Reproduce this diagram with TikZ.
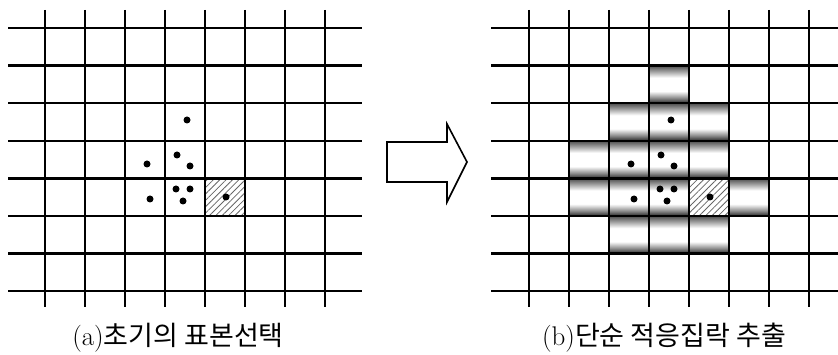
\documentclass[tikz,border=0pt]{standalone}
\usepackage{fontspec}
\newfontfamily\krfont{Noto Sans CJK KR}
\usetikzlibrary{patterns.meta}
\pgfdeclareverticalshading{cellshade}{100bp}{color(0bp)=(black!85); color(25bp)=(black!85); color(32bp)=(black!45); color(41bp)=(white); color(59bp)=(white); color(68bp)=(black!40); color(75bp)=(black!70); color(100bp)=(black!70)}

\begin{document}
\begin{tikzpicture}[
  x=1pt, y=-1pt,
  hline/.style={line width=2.4pt},
  vline/.style={line width=2pt},
  sample/.style={circle, fill=black, inner sep=0pt, minimum size=7pt},
  hatch/.style={pattern={Lines[angle=45, distance=4.5pt, line width=0.8pt]}, pattern color=black!60},
  caption/.style={font=\fontsize{27}{32}\selectfont}
]
  \useasboundingbox (0,0) rectangle (838,355);
  % shaded cells of the cluster
  \foreach \c/\r in {3/1, 2/2, 3/2, 4/2, 1/3, 2/3, 3/3, 4/3, 1/4, 2/4, 3/4, 5/4, 2/5, 3/5, 4/5}
    \shade[shading=cellshade] ({529+40*\c},{28+37.6*\r}) rectangle ++(40,37.6);
  % seed cell
  \foreach \ox in {0,484}
    \fill[hatch] ({\ox+205},178.4) rectangle ++(40,37.6);
  % grids
  \foreach \ox/\xa/\xb in {0/8/362, 484/491/838} {
    \foreach \r in {0,...,7}
      \draw[hline] (\xa,{28+37.6*\r}) -- (\xb,{28+37.6*\r});
    \foreach \c in {0,...,7}
      \draw[vline] ({\ox+45+40*\c},10) -- ({\ox+45+40*\c},307);
  }
  % samples
  \foreach \ox/\g in {0/a, 484/b}
    \foreach \x/\y [count=\i] in {187/120, 177/155, 190/166, 147/164, 176/189, 190/189, 183/201, 150/199, 226/197}
      \node[sample] (\g\i) at ({\ox+\x},\y) {};
  % arrow
  \draw[line width=1.6pt, line join=miter] (387,142) -- (447,142) -- (447,124) -- (467,162) -- (447,202) -- (447,182) -- (387,182) -- cycle;
  \node[caption] (capa) at (178,338) {(a){\krfont 초기의 표본선택}};
  \node[caption] (capb) at (664,338) {(b){\krfont 단순 적응집락 추출}};
\end{tikzpicture}
\end{document}
